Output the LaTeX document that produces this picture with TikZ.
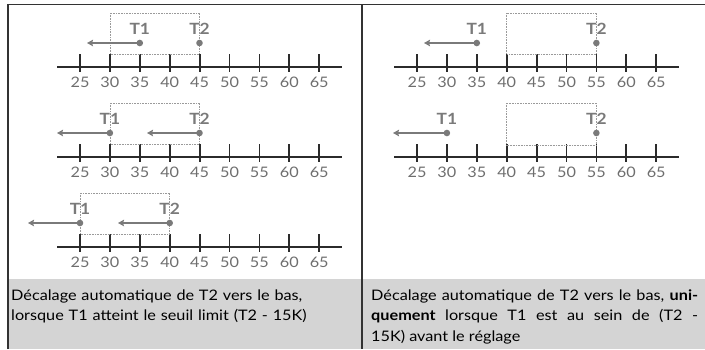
\documentclass[tikz,border=0pt]{standalone}
\usepackage{fontspec}
\setmainfont{Lato}[FakeStretch=1.12]
\usetikzlibrary{arrows.meta}
\definecolor{Axis}{HTML}{2b2b2b}
\definecolor{Marker}{HTML}{7a7a7a}
\definecolor{Number}{HTML}{6e6e6e}
\definecolor{Frame}{HTML}{333333}
\definecolor{Caption}{HTML}{d4d4d4}
\definecolor{Window}{HTML}{9a9a9a}

\begin{document}
\begin{tikzpicture}[x=1pt,y=-1pt,>={Stealth[length=6pt,width=6.5pt,inset=1pt]},
  tag/.style={text=Marker,font=\fontsize{15.5}{17}\selectfont\bfseries,inner sep=0pt,above=8pt},
  num/.style={text=Number,font=\fontsize{14.5}{16}\selectfont,inner sep=0pt},
  caption/.style={font=\fontsize{14.5}{20.5}\selectfont,inner sep=0pt,anchor=base west},
  window/.style={Window,line width=0.7pt,dash pattern=on 0.8pt off 0.8pt},
  push/.style={->,Marker,line width=2pt}]

\useasboundingbox (0,0) rectangle (705,349);

% caption fields and frame
\fill[Caption] (8,279) rectangle (362,349);
\fill[Caption] (362,279) rectangle (705,349);
\draw[Frame,line width=1.5pt] (8,349) -- (8,4.5) -- (705,4.5);
\draw[Frame,line width=1.2pt] (362,4.5) -- (362,349);

% number lines
\foreach \xo/\yo/\ax in {80/67/a, 80/157/b, 80/247/c, 417/67/d, 417/157/e} {
  \draw[Axis,line width=2pt] (\xo-23,\yo) -- (\xo+262,\yo);
  \foreach \v [count=\i from 0] in {25,30,...,65} {
    \draw[Axis,line width=1.8pt] (\xo+\i*29.9,\yo-12.7) -- (\xo+\i*29.9,\yo+5.3);
    \node[num] (\ax\v) at (\xo+\i*29.9,\yo+15) {\v};
  }
}

% left, top
\draw[window] (109.9,13) rectangle (199.5,54);
\coordinate (a1) at (139.8,43);
\coordinate (a2) at (199.5,43);
\coordinate (ea1) at (87,43);
\draw[push] (a1) -- (ea1);
\fill[Marker] (a1) circle [radius=3.3pt];
\fill[Marker] (a2) circle [radius=3.3pt];
\node[tag] (ta1) at (a1) {T1};
\node[tag] (ta2) at (a2) {T2};

% left, middle
\draw[window] (109.9,103) rectangle (199.5,144);
\coordinate (b1) at (109.9,133);
\coordinate (b2) at (199.5,133);
\coordinate (eb1) at (57,133);
\coordinate (eb2) at (147,133);
\draw[push] (b1) -- (eb1);
\draw[push] (b2) -- (eb2);
\fill[Marker] (b1) circle [radius=3.3pt];
\fill[Marker] (b2) circle [radius=3.3pt];
\node[tag] (tb1) at (b1) {T1};
\node[tag] (tb2) at (b2) {T2};

% left, bottom
\draw[window] (80,193) rectangle (169.7,234);
\coordinate (c1) at (80,223);
\coordinate (c2) at (169.7,223);
\coordinate (ec1) at (28,223);
\coordinate (ec2) at (118,223);
\draw[push] (c1) -- (ec1);
\draw[push] (c2) -- (ec2);
\fill[Marker] (c1) circle [radius=3.3pt];
\fill[Marker] (c2) circle [radius=3.3pt];
\node[tag] (tc1) at (c1) {T1};
\node[tag] (tc2) at (c2) {T2};

% right, top
\draw[window] (506.7,13) rectangle (596.4,54);
\coordinate (d1) at (476.8,43);
\coordinate (d2) at (596.4,43);
\coordinate (ed1) at (424,43);
\draw[push] (d1) -- (ed1);
\fill[Marker] (d1) circle [radius=3.3pt];
\fill[Marker] (d2) circle [radius=3.3pt];
\node[tag] (td1) at (d1) {T1};
\node[tag] (td2) at (d2) {T2};

% right, middle
\draw[window] (506.7,103) rectangle (596.4,145);
\coordinate (e1) at (446.9,133);
\coordinate (e2) at (596.4,133);
\coordinate (ee1) at (393,133);
\draw[push] (e1) -- (ee1);
\fill[Marker] (e1) circle [radius=3.3pt];
\fill[Marker] (e2) circle [radius=3.3pt];
\node[tag] (te1) at (e1) {T1};
\node[tag] (te2) at (e2) {T2};

% captions
\node[caption,text width=345pt,align=left] (capl) at (11,300)
  {Décalage automatique de T2 vers le bas,\\lorsque T1 atteint le seuil limit (T2 - 15K)};
\node[caption,text width=327pt,align=justify] (capr) at (371,300)
  {Décalage automatique de T2 vers le bas, \textbf{uni-}\linebreak
   \textbf{quement} lorsque T1 est au sein de (T2 -\linebreak
   15K) avant le réglage};

\end{tikzpicture}
\end{document}
